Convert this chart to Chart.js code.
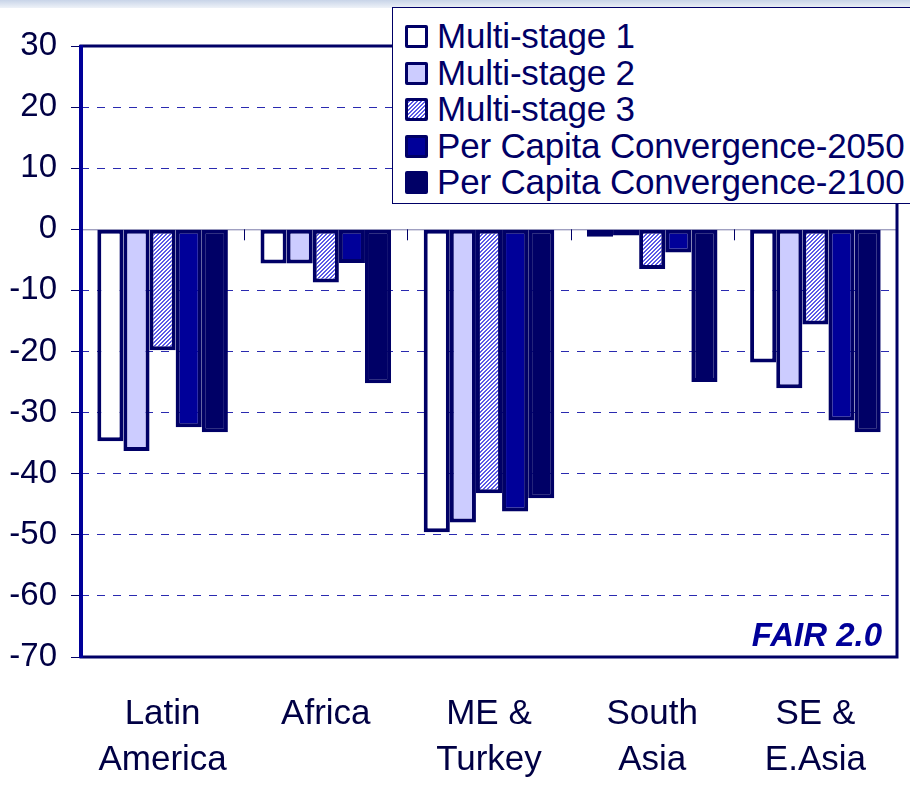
<!DOCTYPE html>
<html>
<head>
<meta charset="utf-8">
<script src="https://cdn.jsdelivr.net/npm/chart.js@4.4.1/dist/chart.umd.min.js"></script>
<style>
    html, body { margin: 0; padding: 0; background: #fff; }
    #wrap { position: relative; width: 910px; height: 789px; overflow: hidden; font-family: 'Liberation Sans', Arial, sans-serif; }
    #topband { position: absolute; left: 0; top: 0; width: 910px; height: 8px; background: linear-gradient(#c8d4e8, #eef2f8); }
    canvas { position: absolute; left: 0; top: 0; }
    #legend { position: absolute; left: 392px; top: 7px; width: 540px; height: 197px; background: #fff; border: 1px solid #000066; box-sizing: border-box; }
    .item { position: absolute; left: 12px; height: 36px; line-height: 36px; font-size: 35px; color: #000066; white-space: nowrap; }
    .sw { position: absolute; left: 0; top: 7px; width: 17px; height: 17px; border: 3px solid #000066; border-radius: 2px; }
    .item span { position: absolute; left: 32px; top: 0; letter-spacing: -0.2px; }
</style>
</head>
<body>
<div id="wrap">
    <div id="topband"></div>
    <canvas id="chart" width="910" height="789"></canvas>
    <div id="legend"></div>
</div>
<script>
const categories = [['Latin', 'America'], 'Africa', ['ME &', 'Turkey'], ['South', 'Asia'], ['SE &', 'E.Asia']];
const seriesNames = ['Multi-stage 1', 'Multi-stage 2', 'Multi-stage 3', 'Per Capita Convergence-2050', 'Per Capita Convergence-2100'];
const multiStage1 = [-34.7, -5.6, -49.6, -1.2, -21.8];
const multiStage2 = [-36.3, -5.6, -48.0, -1.0, -26.0];
const multiStage3 = [-19.8, -8.7, -43.2, -6.5, -15.6];
const pcc2050 = [-32.4, -5.5, -46.2, -3.8, -31.3];
const pcc2100 = [-33.2, -25.2, -44.0, -25.0, -33.2];
const yTicks = [30, 20, 10, 0, -10, -20, -30, -40, -50, -60, -70];

const NAVY = '#000066';

function hatch() {
    const c = document.createElement('canvas');
    c.width = 4; c.height = 4;
    const g = c.getContext('2d');
    g.fillStyle = '#ffffff';
    g.fillRect(0, 0, 4, 4);
    g.fillStyle = '#5a5ae6';
    for (let i = 0; i < 4; i++) {
        g.fillRect(i, 3 - i, 1, 1);
        g.fillRect((i + 1) % 4, 3 - i, 1, 1);
    }
    return g.createPattern(c, 'repeat');
}

const fills = ['#ffffff', '#ccccff', null, '#000099', '#000066'];
const swatchCss = ['#ffffff', '#ccccff', 'repeating-linear-gradient(-45deg, #5a5ae6 0 1.4px, #ffffff 1.4px 2.8px)', '#000099', '#000066'];
const values = [multiStage1, multiStage2, multiStage3, pcc2050, pcc2100];

// html legend
const legendEl = document.getElementById('legend');
seriesNames.forEach((name, i) => {
    const d = document.createElement('div');
    d.className = 'item';
    d.style.top = (10 + i * 36.5) + 'px';
    d.innerHTML = '<div class="sw" style="background:' + swatchCss[i] + '"></div><span>' + name + '</span>';
    legendEl.appendChild(d);
});

const frame = {
    id: 'frame',
    beforeDatasetsDraw(chart) {
        const { ctx, chartArea: a, scales: { x, y } } = chart;
        const y0 = y.getPixelForValue(0);
        ctx.save();
        ctx.strokeStyle = '#7a7aa8';
        ctx.lineWidth = 1;
        ctx.beginPath();
        ctx.moveTo(a.left, y0 + 0.5);
        ctx.lineTo(a.right, y0 + 0.5);
        ctx.stroke();
        ctx.strokeStyle = NAVY;
        for (let i = 1; i < categories.length; i++) {
            const px = Math.round((x.getPixelForValue(i - 1) + x.getPixelForValue(i)) / 2) + 0.5;
            ctx.beginPath();
            ctx.moveTo(px, y0);
            ctx.lineTo(px, y0 + 11);
            ctx.stroke();
        }
        ctx.restore();
    },
    afterDraw(chart) {
        const { ctx, chartArea: a } = chart;
        ctx.save();
        ctx.strokeStyle = NAVY;
        ctx.lineWidth = 3;
        ctx.strokeRect(a.left, a.top, a.right - a.left, a.bottom - a.top);
        ctx.strokeStyle = '#000099';
        ctx.lineWidth = 4;
        ctx.beginPath();
        ctx.moveTo(a.left, a.top - 1);
        ctx.lineTo(a.left, a.bottom + 1);
        ctx.stroke();
        ctx.font = 'italic bold 33px "Liberation Sans", Arial';
        ctx.fillStyle = '#000099';
        ctx.textAlign = 'right';
        ctx.textBaseline = 'middle';
        ctx.fillText('FAIR 2.0', a.right - 15, a.bottom - 20);
        ctx.restore();
    }
};

const ctx = document.getElementById('chart').getContext('2d');
new Chart(ctx, {
    type: 'bar',
    data: {
        labels: categories,
        datasets: seriesNames.map((name, i) => ({
            label: name,
            data: values[i],
            backgroundColor: fills[i] || hatch(),
            borderColor: NAVY,
            borderWidth: 4,
            borderSkipped: false,
            categoryPercentage: 0.8,
            barPercentage: 1.0
        }))
    },
    options: {
        responsive: false,
        animation: false,
        layout: { padding: { top: 46, right: 13, left: 0, bottom: 0 } },
        plugins: { legend: { display: false }, tooltip: { enabled: false } },
        scales: {
            x: {
                grid: { display: false },
                border: { display: false },
                ticks: { color: '#000044', font: { family: 'Liberation Sans', size: 35, lineHeight: 1.32 }, padding: 26, maxRotation: 0 },
                afterFit(s) { s.height = 132; }
            },
            y: {
                min: -70,
                max: 30,
                afterBuildTicks(s) { s.ticks = yTicks.map(v => ({ value: v })); },
                grid: {
                    color: c => (c.tick && (c.tick.value === 0 || c.tick.value === 30 || c.tick.value === -70)) ? 'rgba(0,0,0,0)' : '#2a2ab0',
                    tickColor: NAVY,
                    tickLength: 10,
                    lineWidth: 1
                },
                border: { display: false, dash: [8, 8] },
                ticks: { color: '#000044', font: { family: 'Liberation Sans', size: 33 }, padding: 14 },
                afterFit(s) { s.width = 81; }
            }
        }
    },
    plugins: [frame]
});
</script>
</body>
</html>
